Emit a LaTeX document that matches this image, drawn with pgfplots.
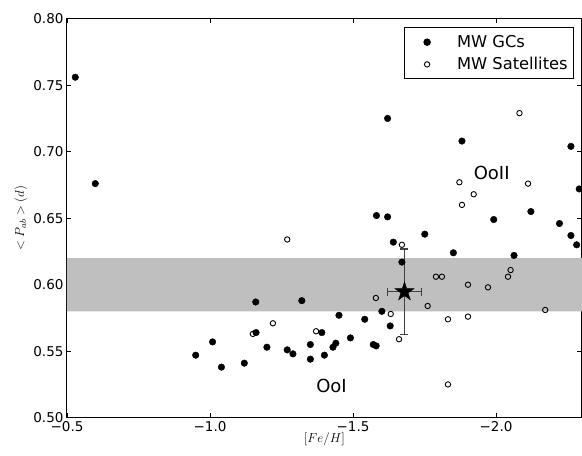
\RequirePackage{fix-cm}
\documentclass[border=0pt]{standalone}
\usepackage{fontspec}
\setmainfont{DejaVu Sans}
\usepackage{pgfplots}
\pgfplotsset{compat=1.18}
\pgfdeclareplotmark{fstar}{%
  \pgfpathmoveto{\pgfpointpolar{90}{\pgfplotmarksize}}%
  \pgfpathlineto{\pgfpointpolar{126}{0.382\pgfplotmarksize}}%
  \pgfpathlineto{\pgfpointpolar{162}{\pgfplotmarksize}}%
  \pgfpathlineto{\pgfpointpolar{198}{0.382\pgfplotmarksize}}%
  \pgfpathlineto{\pgfpointpolar{234}{\pgfplotmarksize}}%
  \pgfpathlineto{\pgfpointpolar{270}{0.382\pgfplotmarksize}}%
  \pgfpathlineto{\pgfpointpolar{306}{\pgfplotmarksize}}%
  \pgfpathlineto{\pgfpointpolar{342}{0.382\pgfplotmarksize}}%
  \pgfpathlineto{\pgfpointpolar{18}{\pgfplotmarksize}}%
  \pgfpathlineto{\pgfpointpolar{54}{0.382\pgfplotmarksize}}%
  \pgfpathclose
  \pgfusepathqfillstroke
}
\begin{document}
\begin{tikzpicture}
\begin{axis}[name=ax,
  scale only axis, width=514.8pt, height=399pt,
  x dir=reverse, xmin=-2.3, xmax=-0.5, ymin=0.5, ymax=0.8,
  xtick={-0.5,-1,-1.5,-2}, xticklabels={−0.5,−1.0,−1.5,−2.0},
  ytick={0.5,0.55,0.6,0.65,0.7,0.75,0.8},
  yticklabels={0.50,0.55,0.60,0.65,0.70,0.75,0.80},
  tick align=inside, major tick length=4.5pt,
  tick style={black, line width=0.8pt},
  axis line style={black, line width=1pt},
  ticklabel style={font=\fontsize{13.5}{16}\selectfont},
  xlabel={\fontsize{13}{15}\selectfont$[Fe/H]$},
  ylabel={\fontsize{13}{15}\selectfont$<P_{ab}> (d)$},
  every axis x label/.style={at={(rel axis cs:0.5,-0.0551)}, anchor=center},
  every axis y label/.style={at={(rel axis cs:-0.0894,0.5)}, rotate=90, anchor=center},
  legend style={at={(0.985,0.978)}, anchor=north east, draw=black, line width=0.8pt,
    font=\fontsize{16.3}{19}\selectfont, inner xsep=4pt, inner ysep=5.5pt,
    row sep=4.5pt},
  legend cell align=left,
  legend image code/.code={\path[#1] plot coordinates {(18.5pt,0pt)}; \path (0pt,0pt) (46pt,0pt);},
]
\addplot[draw=none, fill=black!25, forget plot] coordinates {(-0.5,0.58) (-2.3,0.58) (-2.3,0.62) (-0.5,0.62) (-0.5,0.58)};
\addplot[only marks, mark=*, mark size=3.3pt, black, mark options={fill=black}] coordinates {
(-0.529,0.756) (-0.599,0.676) (-0.950,0.547) (-1.009,0.557) (-1.040,0.538)
(-1.120,0.541) (-1.160,0.587) (-1.161,0.564) (-1.199,0.553) (-1.270,0.551)
(-1.290,0.548) (-1.321,0.588) (-1.351,0.555) (-1.351,0.544) (-1.391,0.564)
(-1.400,0.547) (-1.430,0.553) (-1.440,0.556) (-1.451,0.577) (-1.491,0.560)
(-1.541,0.574) (-1.571,0.555) (-1.581,0.554) (-1.582,0.652) (-1.601,0.580)
(-1.621,0.725) (-1.621,0.651) (-1.630,0.569) (-1.641,0.632) (-1.671,0.617)
(-1.751,0.638) (-1.851,0.624) (-1.881,0.708) (-1.992,0.649) (-2.063,0.622)
(-2.122,0.655) (-2.222,0.646) (-2.262,0.704) (-2.262,0.637) (-2.282,0.630)
(-2.291,0.672)};
\addlegendentry{MW GCs}
\addplot[only marks, mark=o, mark size=2.7pt, black, line width=0.9pt] coordinates {
(-1.150,0.563) (-1.220,0.571) (-1.270,0.634) (-1.371,0.565) (-1.580,0.590)
(-1.632,0.578) (-1.661,0.559) (-1.671,0.630) (-1.761,0.584) (-1.790,0.606)
(-1.811,0.606) (-1.832,0.574) (-1.832,0.525) (-1.872,0.677) (-1.881,0.660)
(-1.902,0.600) (-1.902,0.576) (-1.922,0.668) (-1.972,0.598) (-2.042,0.606)
(-2.051,0.611) (-2.082,0.729) (-2.112,0.676) (-2.172,0.581)};
\addlegendentry{MW Satellites}
\addplot[only marks, mark=fstar, mark size=10pt, black, forget plot,
  error bars/.cd, x dir=both, x explicit, y dir=both, y explicit,
  error bar style={black!75, line width=1.5pt},
  error mark options={rotate=90, mark size=4pt, black!75, line width=1.5pt}]
  coordinates {(-1.68,0.5947) +- (0.06,0.032)};
\node[font=\fontsize{18}{21}\selectfont] at (axis cs:-1.985,0.684) {OoII};
\node[font=\fontsize{18}{21}\selectfont] at (axis cs:-1.425,0.524) {OoI};
\end{axis}
\pgfresetboundingbox
\path ([shift={(-67pt,-38.3pt)}]ax.south west) rectangle ([shift={(0.2pt,18.7pt)}]ax.north east);
\end{tikzpicture}
\end{document}
